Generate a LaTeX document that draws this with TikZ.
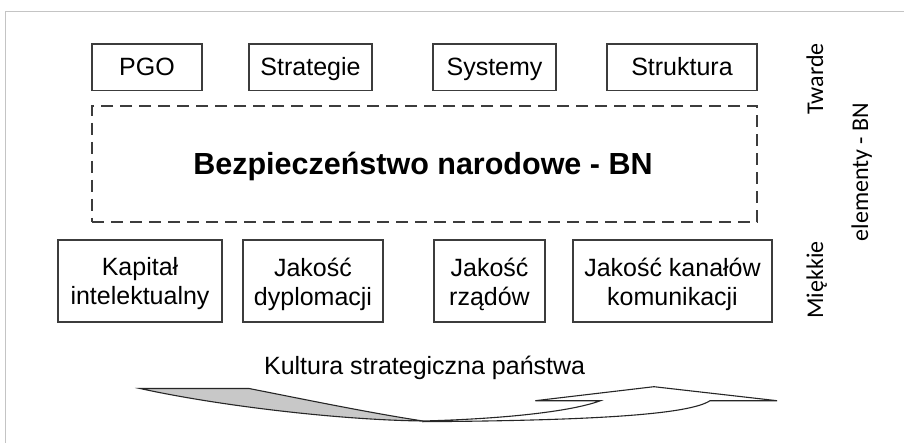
\documentclass[tikz,border=0pt]{standalone}
\usepackage{fontspec}
\setmainfont{Liberation Sans}
\newfontfamily\calibfont{Carlito}
\definecolor{boxgray}{HTML}{3C3C3C}
\definecolor{framegray}{HTML}{C4C4C4}
\definecolor{arrowgray}{HTML}{C8C8C8}
\begin{document}
\begin{tikzpicture}[x=1pt,y=-1pt,
  box/.style={draw=boxgray, line width=1.1pt, minimum height=46.5pt, inner sep=0pt,
    font=\fontsize{25}{29}\selectfont, text height=18pt, text depth=2pt, text=black},
  softbox/.style={draw=boxgray, line width=1.1pt, minimum height=82pt, inner sep=0pt},
  boxtext/.style={inner sep=0pt, align=center, font=\fontsize{25}{29}\selectfont, text=black},
  dashbox/.style={draw=boxgray, line width=1.1pt, dash pattern=on 12pt off 7pt, inner sep=0pt,
    font=\fontsize{30.5}{34}\selectfont\bfseries, text height=24pt, text depth=2pt},
  sidelabel/.style={rotate=90, anchor=base, inner sep=0pt, font=\calibfont\fontsize{24}{28}\selectfont},
  arrowline/.style={draw=black!85, line width=1.1pt, line join=miter}
]
\useasboundingbox (0,0) rectangle (904,443);
\fill[white] (0,0) rectangle (904,443);
\draw[framegray, line width=1pt] (5,443) -- (5,12) -- (904,12);

% hard elements
\node[box, minimum width=110pt] (pgo) at (147,67.25) {PGO};
\node[box, minimum width=123pt] (strat) at (310.5,67.25) {Strategie};
\node[box, minimum width=123pt] (sys) at (494.5,67.25) {Systemy};
\node[box, minimum width=150pt] (struk) at (682,67.25) {Struktura};

% national security
\node[dashbox, minimum width=665pt, minimum height=116pt] (bn) at (424.5,164) {};
\node[anchor=base, inner sep=0pt, font=\fontsize{30.5}{34}\selectfont\bfseries] (bnt) at (423,175) {Bezpieczeństwo narodowe - BN};

% soft elements
\node[softbox, minimum width=164pt] (kap) at (140,281) {};
\node[softbox, minimum width=140pt] (dyp) at (313,281) {};
\node[softbox, minimum width=111pt] (rzad) at (489.5,281) {};
\node[softbox, minimum width=199pt] (kan) at (672.5,281) {};
\node[boxtext] (kapt) at ([yshift=-3pt]kap.center) {Kapitał\\intelektualny};
\node[boxtext] (dypt) at ([yshift=-3pt]dyp.center) {Jakość\\dyplomacji};
\node[boxtext] (rzadt) at ([yshift=-3pt]rzad.center) {Jakość\\rządów};
\node[boxtext] (kant) at ([yshift=-3pt]kan.center) {Jakość kanałów\\komunikacji};

% side labels
\node[sidelabel] (tw) at (823,79) {Twarde};
\node[sidelabel] (mi) at (823,280) {Miękkie};
\node[sidelabel] (el) at (868,172) {elementy - BN};

% culture
\node[anchor=base, inner sep=0pt, font=\fontsize{25}{29}\selectfont] (kult) at (424.6,374) {Kultura strategiczna państwa};

% curved arrow
\filldraw[arrowline, fill=arrowgray] (140,388.5) -- (249,388.5)
  .. controls (300,398.5) and (370,413) .. (423,421)
  .. controls (340,420) and (220,406) .. (140,388.5) -- cycle;
\filldraw[arrowline, fill=white] (423,421)
  .. controls (500,419) and (570,412) .. (600.5,400.7)
  -- (535.3,400.7) -- (653.9,386.7) -- (777,400.7) -- (710,400.7)
  .. controls (690,414) and (600,420.5) .. (423,421.7) -- cycle;
\end{tikzpicture}
\end{document}
